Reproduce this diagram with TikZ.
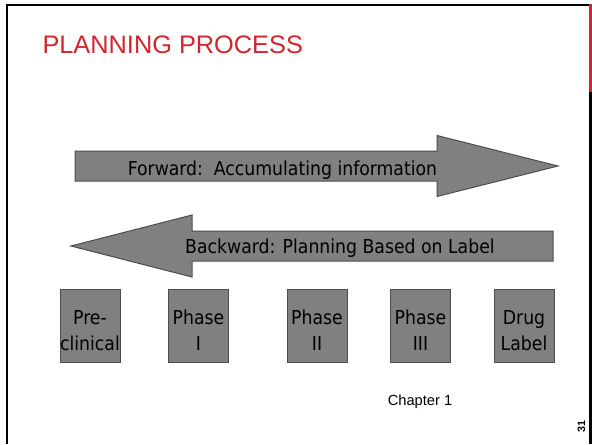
\documentclass[tikz,border=0pt]{standalone}
\usepackage{fontspec}
\setmainfont{Liberation Sans}
\newfontfamily\stagefont{DejaVu Sans Condensed}
\tikzset{every picture/.style={line width=0.75pt}}
\tikzset{
	stagebox/.style={draw={rgb, 255:red, 77; green, 77; blue, 77 }, fill={rgb, 255:red, 128; green, 128; blue, 128 }, fill opacity=1, line width=0.75, minimum width=45pt, minimum height=54.75pt, inner sep=0pt},
	stagetext/.style={font=\stagefont\fontsize{14.4}{19.5}\selectfont, align=center, inner sep=0pt},
	bigarrow/.style={draw={rgb, 255:red, 77; green, 77; blue, 77 }, fill={rgb, 255:red, 128; green, 128; blue, 128 }, fill opacity=1, line width=0.75},
	arrowtext/.style={font=\stagefont\fontsize{14.4}{19.5}\selectfont, anchor=base, inner sep=0pt}}

\begin{document}
\begin{tikzpicture}[x=0.75pt,y=0.75pt,yscale=-1,xscale=1]
	\useasboundingbox (0,0) rectangle (592,444);

	%Straight Lines: slide frame
	\draw [line width=1.8] (7.2,444) -- (7.2,5) -- (589,5) ;
	\draw [color={rgb, 255:red, 212; green, 36; blue, 44 }, line width=2.6] (590.3,4) -- (590.3,92) ;
	\draw [line width=2.6] (590.3,92) -- (590.3,444) ;

	% Text Node
	\node [anchor=base west, inner sep=0pt, text={rgb, 255:red, 212; green, 36; blue, 44 }, font=\fontsize{19}{23}\selectfont] (title) at (42,53) {PLANNING PROCESS};

	%Shape: Right Arrow
	\draw [bigarrow] (75,151) -- (437,151) -- (437,135.5) -- (558,166) -- (437,196.5) -- (437,181) -- (75,181) -- cycle ;
	%Shape: Left Arrow
	\draw [bigarrow] (553,231) -- (192,231) -- (192,215) -- (71,246) -- (192,277) -- (192,261) -- (553,261) -- cycle ;

	% Text Node
	\node [arrowtext] (forward) at (282.5,175) {Forward:\ \ Accumulating information};
	% Text Node
	\node [arrowtext] (backward) at (340,253) {Backward: Planning Based on Label};

	%Shape: Rectangle
	\node [stagebox] (preclin) at (90,325.5) {};
	\node [stagebox] (phaseI) at (198.5,325.5) {};
	\node [stagebox] (phaseII) at (317,325.5) {};
	\node [stagebox] (phaseIII) at (420.5,325.5) {};
	\node [stagebox] (druglabel) at (524,325.5) {};

	% Text Node
	\node [stagetext] (preclinTxt) at (90,331.8) {\strut Pre-\\\strut clinical};
	% Text Node
	\node [stagetext] (phaseITxt) at (198.5,331.8) {\strut Phase\\\strut I};
	% Text Node
	\node [stagetext] (phaseIITxt) at (317,331.8) {\strut Phase\\\strut II};
	% Text Node
	\node [stagetext] (phaseIIITxt) at (420.5,331.8) {\strut Phase\\\strut III};
	% Text Node
	\node [stagetext] (druglabelTxt) at (524,331.8) {\strut Drug\\\strut Label};

	% Text Node
	\node [anchor=base, inner sep=0pt, font=\fontsize{11}{13}\selectfont] (chapter) at (420,405) {Chapter 1};
	% Text Node
	\node [rotate=90, inner sep=0pt, font=\bfseries\fontsize{8}{10}\selectfont] (slidenum) at (581.5,426.5) {31};

\end{tikzpicture}
\end{document}
